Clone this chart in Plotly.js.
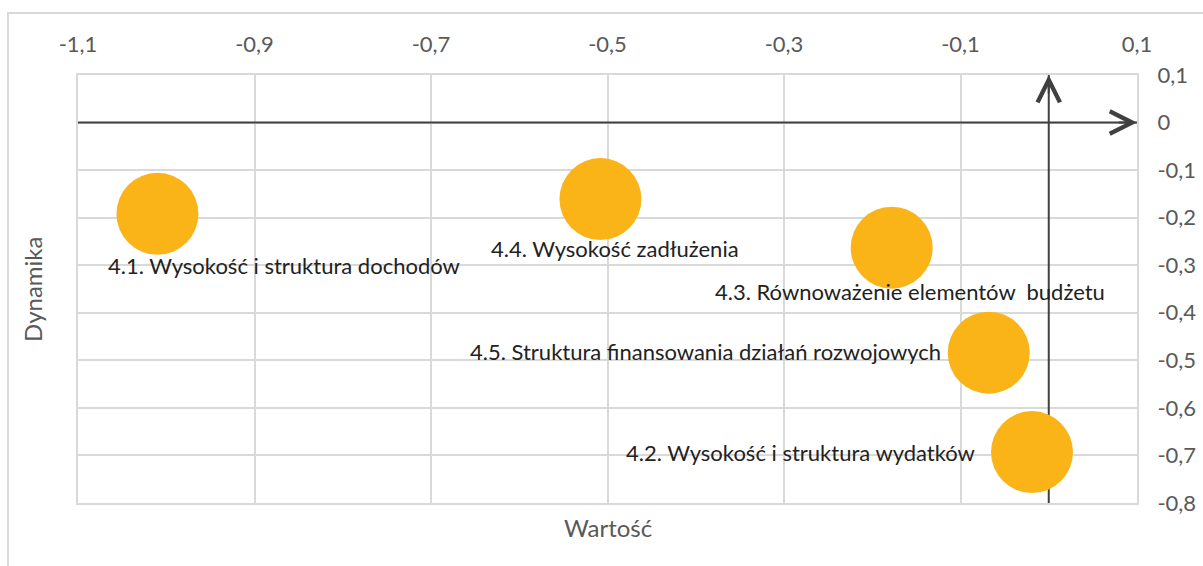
<!DOCTYPE html>
<html>
<head>
<meta charset="utf-8">
<script src="https://cdn.plot.ly/plotly-3.0.1.min.js"></script>
<style>
html,body{margin:0;padding:0;background:#fff;}
#chart{width:1203px;height:566px;}
</style>
</head>
<body>
<div id="chart"></div>
<script>
// ---- data ----
const labels = [
  "4.1. Wysokość i struktura dochodów",
  "4.2. Wysokość i struktura wydatków",
  "4.3. Równoważenie elementów  budżetu",
  "4.4. Wysokość zadłużenia",
  "4.5. Struktura finansowania działań rozwojowych"
];
const wartosc = [-1.01, -0.019, -0.178, -0.508, -0.068];
const dynamika = [-0.192, -0.693, -0.263, -0.161, -0.484];
const bubbleSize = [1, 1, 1, 1, 1];

const xTickVals = [-1.1, -0.9, -0.7, -0.5, -0.3, -0.1, 0.1];
const xTickText = ["-1,1", "-0,9", "-0,7", "-0,5", "-0,3", "-0,1", "0,1"];
const yTickVals = [0.1, 0, -0.1, -0.2, -0.3, -0.4, -0.5, -0.6, -0.7, -0.8];
const yTickText = ["0,1", "0", "-0,1", "-0,2", "-0,3", "-0,4", "-0,5", "-0,6", "-0,7", "-0,8"];

// ---- styling (label placement relative to bubble, in px) ----
const labelPlacement = [
  {xanchor: "left",  xshift: -51,  yshift: -52},
  {xanchor: "right", xshift: -55,  yshift: 0},
  {xanchor: "left",  xshift: -179, yshift: -44},
  {xanchor: "left",  xshift: -111, yshift: -49},
  {xanchor: "right", xshift: -46,  yshift: 1}
];

const FONT = "Lato, 'Open Sans', sans-serif";
const GRID = "#d9d9d9";
const AXC = "#404040";

const trace = {
  type: "scatter",
  mode: "markers",
  x: wartosc,
  y: dynamika,
  text: labels,
  hoverinfo: "text",
  marker: {
    size: bubbleSize.map(s => s * 82),
    sizemode: "diameter",
    color: "#FBB418",
    opacity: 1,
    line: {width: 0}
  },
  cliponaxis: false
};

const xr = [xTickVals[0], xTickVals[xTickVals.length - 1]];
const yr = [yTickVals[yTickVals.length - 1], yTickVals[0]];

const annotations = labels.map((t, i) => ({
  x: wartosc[i], y: dynamika[i], xref: "x", yref: "y",
  text: t, showarrow: false,
  xanchor: labelPlacement[i].xanchor, yanchor: "middle",
  xshift: labelPlacement[i].xshift, yshift: labelPlacement[i].yshift,
  font: {family: FONT, size: 22, color: "#222222"}
}));

// axis arrowheads
annotations.push({
  x: xr[1], y: 0, ax: -20, ay: 0, xref: "x", yref: "y",
  showarrow: true, arrowhead: 5, arrowsize: 2.2, arrowwidth: 2, arrowcolor: AXC,
  standoff: 0, startstandoff: 0, text: ""
});
annotations.push({
  x: 0, y: yr[1], ax: 0, ay: 20, xref: "x", yref: "y",
  showarrow: true, arrowhead: 5, arrowsize: 2.2, arrowwidth: 2, arrowcolor: AXC,
  standoff: 0, startstandoff: 0, text: ""
});

// axis titles
annotations.push({
  text: "Wartość", xref: "paper", yref: "paper", x: 0.5, y: 0,
  yanchor: "middle", yshift: -24, showarrow: false,
  font: {family: FONT, size: 24, color: "#595959"}
});
annotations.push({
  text: "Dynamika", xref: "paper", yref: "paper", x: 0, y: 0.5,
  xanchor: "center", xshift: -46, textangle: -90, showarrow: false,
  font: {family: FONT, size: 24, color: "#595959"}
});

const layout = {
  width: 1203, height: 566,
  margin: {l: 78, r: 66, t: 75, b: 63},
  paper_bgcolor: "#ffffff",
  plot_bgcolor: "#ffffff",
  showlegend: false,
  xaxis: {
    range: xr, side: "top",
    tickvals: xTickVals, ticktext: xTickText,
    showgrid: true, gridcolor: GRID, gridwidth: 2,
    zeroline: false, showline: true, mirror: true, linecolor: GRID, linewidth: 2,
    ticks: "outside", ticklen: 12, tickcolor: "rgba(0,0,0,0)",
    tickfont: {family: FONT, size: 22, color: "#595959"},
    fixedrange: true
  },
  yaxis: {
    range: yr, side: "right",
    tickvals: yTickVals, ticktext: yTickText,
    showgrid: true, gridcolor: GRID, gridwidth: 2,
    zeroline: false, showline: true, mirror: true, linecolor: GRID, linewidth: 2,
    ticks: "outside", ticklen: 14, tickcolor: "rgba(0,0,0,0)",
    tickfont: {family: FONT, size: 22, color: "#595959"},
    fixedrange: true
  },
  annotations: annotations,
  shapes: [
    {type: "rect", xref: "paper", yref: "paper",
     x0: -0.0661, x1: 1.3, y0: -0.3, y1: 1.1449,
     line: {color: GRID, width: 2}, fillcolor: "rgba(0,0,0,0)", layer: "below"},
    {type: "line", xref: "x", yref: "y", x0: xr[0], x1: xr[1], y0: 0, y1: 0,
     line: {color: AXC, width: 2}, layer: "between"},
    {type: "line", xref: "x", yref: "y", x0: 0, x1: 0, y0: yr[0], y1: yr[1],
     line: {color: AXC, width: 2}, layer: "between"}
  ]
};

Plotly.newPlot("chart", [trace], layout, {staticPlot: true, displayModeBar: false});
</script>
</body>
</html>
